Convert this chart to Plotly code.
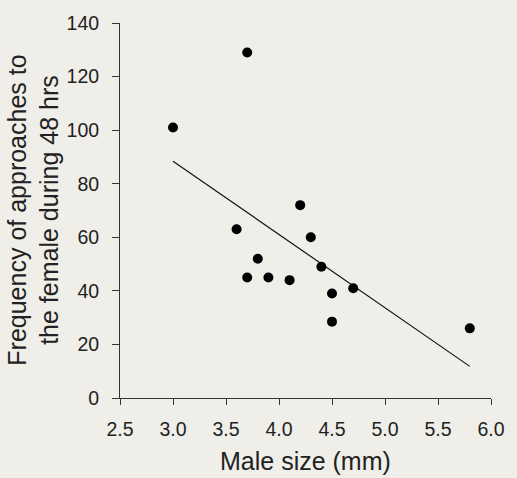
import numpy as np
import plotly.graph_objects as go

male_size = [3.0, 3.7, 4.2, 3.6, 4.3, 3.8, 3.7, 3.9, 4.1, 4.4, 4.5, 4.7, 4.5, 5.8]
approaches = [101, 129, 72, 63, 60, 52, 45, 45, 44, 49, 39, 41, 28.5, 26]
x_ticks = [2.5, 3.0, 3.5, 4.0, 4.5, 5.0, 5.5, 6.0]
y_ticks = [0, 20, 40, 60, 80, 100, 120, 140]

slope, intercept = np.polyfit(male_size, approaches, 1)
fit_x = [min(male_size), max(male_size)]
fit_y = [slope * v + intercept for v in fit_x]

FONT = "Arial, 'Liberation Sans', sans-serif"
TXT = "#222222"
BG = "#f0eee9"

fig = go.Figure()
fig.add_trace(go.Scatter(x=fit_x, y=fit_y, mode="lines",
                         line=dict(color="#111111", width=1.2), showlegend=False))
fig.add_trace(go.Scatter(x=male_size, y=approaches, mode="markers",
                         marker=dict(color="#000000", size=10), showlegend=False))

fig.update_layout(
    width=517, height=478,
    margin=dict(l=120, r=15, t=15, b=80),
    paper_bgcolor=BG, plot_bgcolor=BG,
    font=dict(family=FONT, color=TXT, size=19.5),
    xaxis=dict(range=[2.5, 6.0], tickvals=x_ticks, ticktext=[f"{v:.1f}" for v in x_ticks],
               showline=True, linecolor="#333333", linewidth=1,
               ticks="outside", ticklen=6, tickcolor="#333333", ticklabelstandoff=8,
               showgrid=False, zeroline=False),
    yaxis=dict(range=[0, 140], tickvals=y_ticks,
               showline=True, linecolor="#333333", linewidth=1,
               ticks="outside", ticklen=7, tickcolor="#333333", ticklabelstandoff=9,
               showgrid=False, zeroline=False),
    annotations=[
        dict(text="Frequency of approaches to<br>the female during 48 hrs",
             xref="paper", yref="paper", x=-0.234, y=0.5,
             xanchor="center", yanchor="middle", textangle=-90,
             showarrow=False, font=dict(size=25, color=TXT, family=FONT)),
        dict(text="Male size (mm)",
             xref="paper", yref="paper", x=0.5, y=-0.167,
             xanchor="center", yanchor="middle",
             showarrow=False, font=dict(size=25, color=TXT, family=FONT)),
    ],
)

fig.write_html("out.html")
